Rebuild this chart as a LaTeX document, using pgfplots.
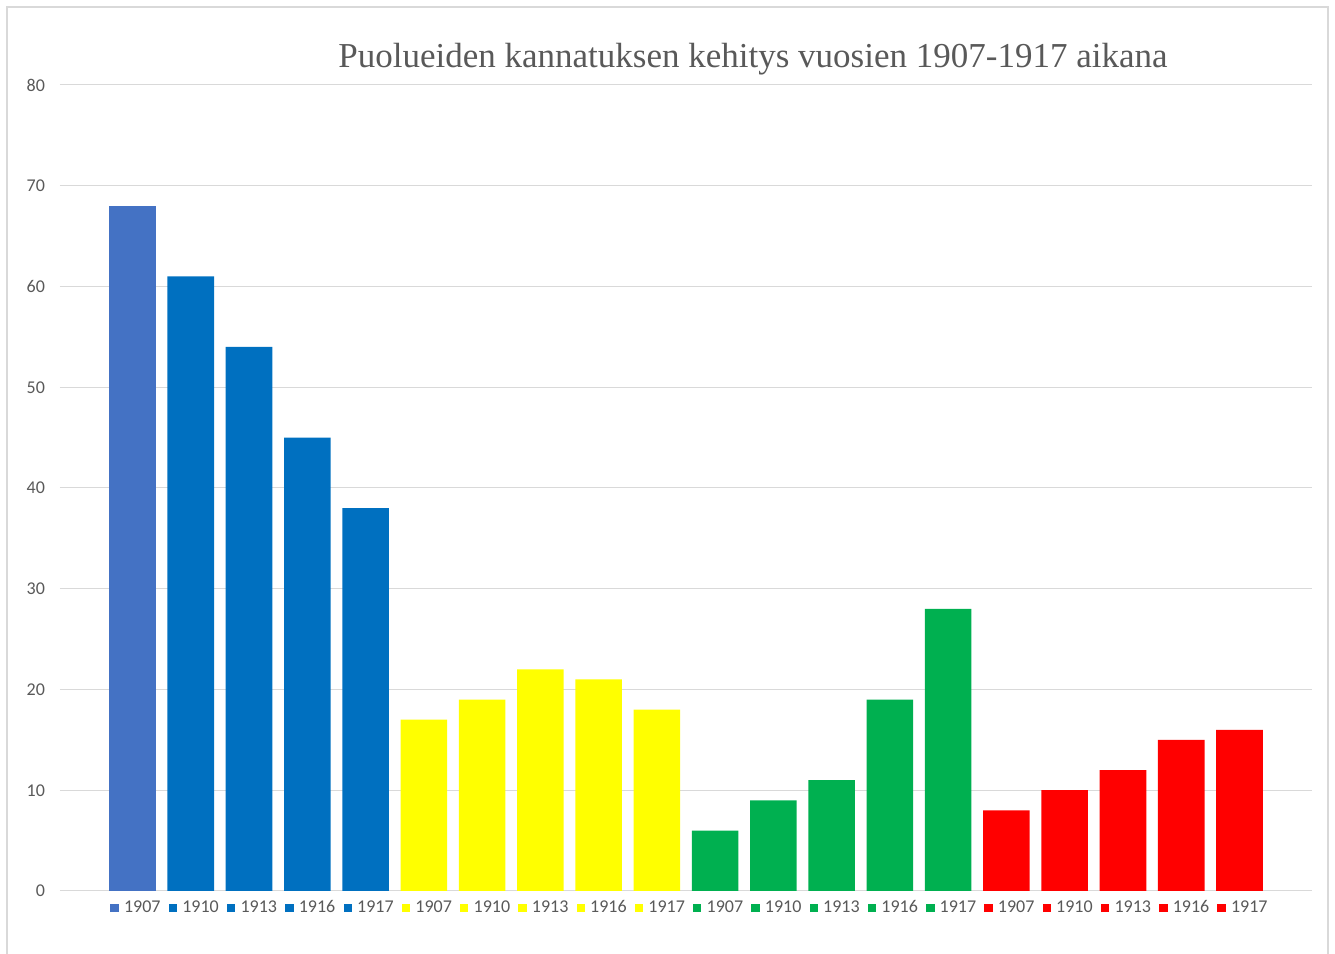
\documentclass[border=0pt]{standalone}
\usepackage{pgfplots}
\pgfplotsset{compat=1.18}
\usepackage{fontspec}
\setmainfont{Carlito}
\newfontfamily\titlefont{Liberation Serif}
\definecolor{cA}{HTML}{4472C4}
\definecolor{cB}{HTML}{0070C0}
\definecolor{cY}{HTML}{FFFF00}
\definecolor{cG}{HTML}{00B050}
\definecolor{cR}{HTML}{FF0000}
\definecolor{txt}{HTML}{595959}
\definecolor{gridc}{HTML}{D9D9D9}
\newcommand{\sq}[1]{\textcolor{#1}{\rule{4.2pt}{4.2pt}}\kern2.6pt}
\begin{document}
\begin{tikzpicture}
\begin{axis}[
  name=ax,
  scale only axis,
  width=626pt, height=403pt,
  xmin=-1.245, xmax=20.245,
  ymin=0, ymax=80,
  ytick={0,10,...,80},
  xtick={0,...,19},
  xticklabels={{\sq{cA}1907},{\sq{cB}1910},{\sq{cB}1913},{\sq{cB}1916},{\sq{cB}1917},
               {\sq{cY}1907},{\sq{cY}1910},{\sq{cY}1913},{\sq{cY}1916},{\sq{cY}1917},
               {\sq{cG}1907},{\sq{cG}1910},{\sq{cG}1913},{\sq{cG}1916},{\sq{cG}1917},
               {\sq{cR}1907},{\sq{cR}1910},{\sq{cR}1913},{\sq{cR}1916},{\sq{cR}1917}},
  /pgf/number format/assume math mode=true,
  ticklabel style={font=\fontsize{9pt}{10pt}\selectfont, text=txt},
  yticklabel style={xshift=-4pt},
  xticklabel style={anchor=north, text height=6.5pt, text depth=0pt, yshift=-0.5pt, xshift=1.5pt},
  major tick length=0pt,
  ymajorgrids,
  grid style={gridc, line width=0.5pt},
  axis x line*=bottom,
  axis y line*=left,
  x axis line style={draw=gridc, line width=0.5pt, -},
  y axis line style={draw=none},
  ybar, bar width=0.8, bar shift=0pt,
  clip=false,
]
\addplot[fill=cA, draw=none] coordinates {(0,68)};
\addplot[fill=cB, draw=none] coordinates {(1,61) (2,54) (3,45) (4,38)};
\addplot[fill=cY, draw=none] coordinates {(5,17) (6,19) (7,22) (8,21) (9,18)};
\addplot[fill=cG, draw=none] coordinates {(10,6) (11,9) (12,11) (13,19) (14,28)};
\addplot[fill=cR, draw=none] coordinates {(15,8) (16,10) (17,12) (18,15) (19,16)};
\end{axis}
\path[use as bounding box] ([xshift=-30pt,yshift=-31.5pt]ax.south west) rectangle ([xshift=11.5pt,yshift=42.5pt]ax.north east);
\draw[gridc, line width=0.8pt] ([xshift=-26.5pt,yshift=-33pt]ax.south west) rectangle ([xshift=8pt,yshift=39pt]ax.north east);
\node[anchor=base, text=txt, font=\titlefont\fontsize{17.5pt}{20pt}\selectfont] at ([xshift=346.5pt,yshift=8.5pt]ax.north west) {Puolueiden kannatuksen kehitys vuosien 1907-1917 aikana};
\end{tikzpicture}
\end{document}
